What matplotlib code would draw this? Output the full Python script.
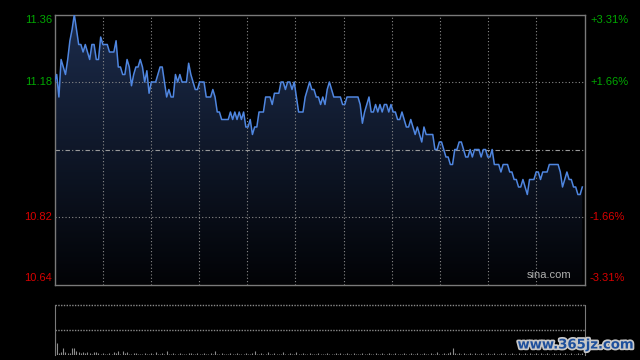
import numpy as np
import matplotlib
matplotlib.use("Agg")
import matplotlib.pyplot as plt
import matplotlib.patheffects as pe
from matplotlib.colors import LinearSegmentedColormap
from matplotlib.patches import Polygon

# ------------------------------------------------------------------
# data (one value per minute)
# ------------------------------------------------------------------
prices = [
    11.18, 11.20, 11.14, 11.24, 11.22, 11.20, 11.24, 11.29, 11.32, 11.36,
    11.32, 11.28, 11.28, 11.26, 11.28, 11.26, 11.24, 11.28, 11.28, 11.24,
    11.24, 11.30, 11.28, 11.28, 11.28, 11.26, 11.26, 11.26, 11.29, 11.22,
    11.22, 11.20, 11.20, 11.24, 11.22, 11.17, 11.20, 11.22, 11.22, 11.24,
    11.22, 11.18, 11.21, 11.15, 11.18, 11.18, 11.18, 11.20, 11.22, 11.22,
    11.18, 11.14, 11.16, 11.14, 11.14, 11.20, 11.18, 11.20, 11.18, 11.18,
    11.18, 11.23, 11.20, 11.18, 11.16, 11.16, 11.18, 11.18, 11.18, 11.14,
    11.14, 11.14, 11.16, 11.14, 11.10, 11.10, 11.08, 11.08, 11.08, 11.08,
    11.10, 11.08, 11.10, 11.08, 11.10, 11.08, 11.10, 11.06, 11.06, 11.08,
    11.04, 11.06, 11.06, 11.10, 11.10, 11.10, 11.14, 11.14, 11.14, 11.12,
    11.15, 11.15, 11.15, 11.18, 11.18, 11.16, 11.18, 11.18, 11.16, 11.18,
    11.14, 11.10, 11.10, 11.10, 11.14, 11.16, 11.18, 11.16, 11.16, 11.14,
    11.14, 11.12, 11.14, 11.12, 11.16, 11.18, 11.16, 11.14, 11.14, 11.14,
    11.14, 11.12, 11.12, 11.14, 11.14, 11.14, 11.14, 11.14, 11.14, 11.12,
    11.07, 11.10, 11.12, 11.14, 11.10, 11.10, 11.12, 11.10, 11.12, 11.10,
    11.12, 11.12, 11.10, 11.12, 11.10, 11.10, 11.08, 11.08, 11.10, 11.08,
    11.06, 11.06, 11.08, 11.06, 11.04, 11.06, 11.04, 11.02, 11.06, 11.04,
    11.04, 11.04, 11.04, 11.00, 11.00, 11.02, 11.02, 11.00, 10.98, 10.98,
    10.96, 10.96, 11.00, 11.00, 11.02, 11.02, 11.00, 10.98, 10.98, 11.00,
    10.98, 11.00, 11.00, 11.00, 10.98, 11.00, 11.00, 10.98, 10.98, 11.00,
    10.96, 10.96, 10.96, 10.94, 10.96, 10.96, 10.96, 10.94, 10.94, 10.92,
    10.92, 10.90, 10.90, 10.92, 10.90, 10.88, 10.92, 10.92, 10.92, 10.94,
    10.94, 10.92, 10.94, 10.94, 10.94, 10.96, 10.96, 10.96, 10.96, 10.96,
    10.94, 10.90, 10.92, 10.94, 10.92, 10.92, 10.90, 10.90, 10.88, 10.88,
    10.90,
]

volumes = [
    22, 12, 2, 3, 7, 3, 2, 2, 7, 7, 4, 3, 2, 3, 2, 3, 2, 1, 3, 3,
    2, 1, 2, 1, 1, 2, 1, 3, 2, 4, 1, 4, 2, 3, 1, 1, 2, 2, 1, 1,
    1, 2, 1, 1, 2, 1, 3, 1, 1, 2, 1, 4, 1, 1, 2, 1, 1, 2, 1, 1,
    1, 2, 2, 1, 1, 2, 1, 1, 2, 1, 1, 2, 1, 4, 1, 1, 2, 1, 1, 1,
    2, 1, 1, 2, 1, 1, 1, 2, 1, 1, 2, 4, 1, 1, 2, 1, 1, 3, 1, 1,
    2, 1, 1, 1, 3, 1, 1, 2, 1, 1, 3, 1, 1, 2, 1, 1, 2, 1, 1, 1,
    2, 1, 1, 1, 2, 1, 1, 1, 2, 1, 2, 1, 1, 2, 1, 1, 2, 1, 1, 1,
    2, 1, 1, 2, 1, 1, 2, 1, 1, 2, 1, 1, 2, 1, 1, 2, 1, 1, 1, 2,
    1, 1, 2, 1, 1, 2, 1, 1, 2, 1, 1, 2, 1, 1, 3, 1, 1, 2, 1, 2,
    3, 7, 2, 1, 2, 1, 2, 1, 1, 2, 1, 2, 1, 1, 2, 1, 1, 2, 1, 1,
    2, 1, 1, 2, 1, 2, 1, 1, 2, 1, 1, 2, 1, 1, 2, 1, 2, 1, 1, 2,
    1, 2, 1, 1, 2, 1, 1, 2, 1, 1, 2, 1, 2, 1, 1, 2, 1, 1, 2, 1, 2,
]

prev_close = 11.00
y_ticks = [11.36, 11.18, 10.82, 10.64]
pct_labels = ["+3.31%", "+1.66%", "-1.66%", "-3.31%"]
tick_colors = ["#00a800", "#00a800", "#d80000", "#d80000"]

# ------------------------------------------------------------------
W, H = 640, 360
ymin, ymax = 10.64, 11.36
n_min = 241

plt.rcParams['font.family'] = ['Liberation Sans', 'DejaVu Sans']
fig = plt.figure(figsize=(6.4, 3.6), dpi=100, facecolor='black')


def fx(px):
    return px / W


def fy(py):
    return 1 - py / H


ax = fig.add_axes([fx(54.5), fy(284.5), fx(530), 270 / H])
ax.set_facecolor('black')
x = np.arange(len(prices))

# gradient area under the line
cmap = LinearSegmentedColormap.from_list('area', ['#020306', '#1c2c4c'])
grad = np.linspace(1, 0, 256).reshape(-1, 1)
im = ax.imshow(grad, extent=[0, n_min, ymin, ymax], aspect='auto',
               cmap=cmap, origin='upper', zorder=1)
verts = [(0, ymin)] + list(zip(x, prices)) + [(x[-1], ymin)]
clip = Polygon(verts, closed=True, transform=ax.transData,
               facecolor='none', edgecolor='none')
ax.add_patch(clip)
im.set_clip_path(clip)

ax.plot(x, prices, color='#4f86e0', lw=1.1, zorder=4)

# grid
for k in range(1, 11):
    ax.axvline(k * n_min / 11, color='#8a8a8a', lw=0.8,
               ls=(0, (1, 2)), zorder=2)
for v in (11.18, 10.82):
    ax.axhline(v, color='#8a8a8a', lw=0.8, ls=(0, (1, 2)), zorder=2)
ax.axhline(prev_close, color='#9a9a9a', lw=0.8,
           ls=(0, (4, 2, 1, 2)), zorder=2)

ax.set_xlim(0, n_min)
ax.set_ylim(ymin, ymax)
ax.set_xticks([])
ax.set_yticks([])
for s in ax.spines.values():
    s.set_color('#7a7a7a')
    s.set_linewidth(1)

ax.text(0.975, 0.015, "sina.com", transform=ax.transAxes, ha='right',
        va='bottom', color='#b0b0b0', fontsize=8, zorder=5)

# price / percent labels
label_y = [20, 82, 217, 278]
for ly, t, p, c in zip(label_y, y_ticks, pct_labels, tick_colors):
    fig.text(fx(52), fy(ly), f"{t:.2f}", color=c, fontsize=8,
             ha='right', va='center')
    fig.text(fx(590), fy(ly), p, color=c, fontsize=8,
             ha='left', va='center')

# volume panel
vax = fig.add_axes([fx(54.5), fy(355), fx(530), 50 / H])
vax.set_facecolor('black')
vax.vlines(np.arange(len(volumes)), 0, volumes, color='#8c8c8c', lw=0.8)
vax.set_xlim(0, n_min)
vax.set_ylim(0, 50)
vax.set_xticks([])
vax.set_yticks([])
for side in ('top', 'bottom'):
    vax.spines[side].set_visible(False)
for side in ('left', 'right'):
    vax.spines[side].set_color('#7a7a7a')
vax.axhline(50, color='#8a8a8a', lw=1, ls=(0, (1, 1)), clip_on=False)
vax.axhline(25, color='#8a8a8a', lw=1, ls=(0, (1, 1)))

# site watermark
fig.text(fx(576), fy(345), "www.365jz.com", color='#1d4f9c', fontsize=9.5,
         fontweight='bold', ha='center', va='center', family='DejaVu Sans',
         path_effects=[pe.withStroke(linewidth=2.5, foreground='#c8c8c8')])

fig.savefig('out.png', dpi=100, facecolor='black')
